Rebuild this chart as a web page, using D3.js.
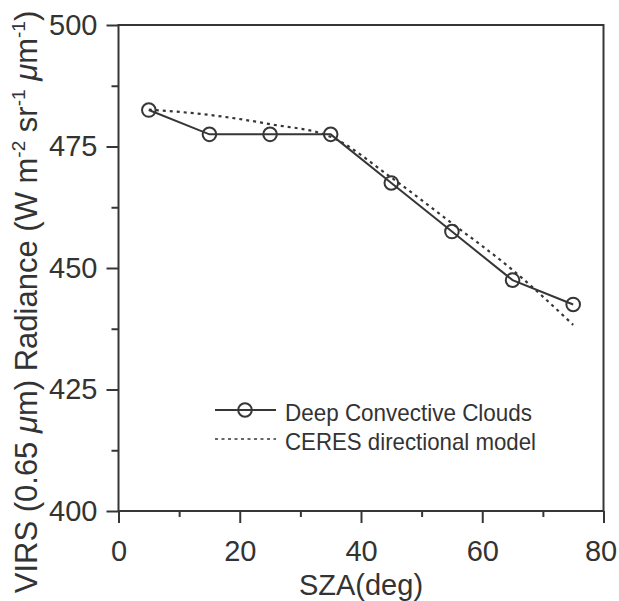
<!DOCTYPE html>
<html>
<head>
<meta charset="utf-8">
<script src="https://cdn.jsdelivr.net/npm/d3@7"></script>
<style>
  body { margin: 0; background: #fff; }
  svg { display: block; font-family: "Liberation Sans", Arial, Helvetica, sans-serif; }
</style>
</head>
<body>
<svg id="chart" width="619" height="601"></svg>
<script>
// ---- data ----
const szaValues = [5, 15, 25, 35, 45, 55, 65, 75];
const dccRadiance = [482.5, 477.5, 477.5, 477.5, 467.5, 457.5, 447.5, 442.5];
const ceresSza = [5, 15, 25, 35, 45, 55, 65, 75];
const ceresRadiance = [482.6, 481.5, 479.6, 477.0, 468.6, 459.2, 449.6, 438.3];
const xTicks = [0, 20, 40, 60, 80];
const xMinorTicks = [10, 30, 50, 70];
const yTicks = [400, 425, 450, 475, 500];
const yMinorTicks = [412.5, 437.5, 462.5, 487.5];
const legendLabels = ["Deep Convective Clouds", "CERES directional model"];

// ---- layout ----
const svg = d3.select("#chart");
const L = 118.5, R = 603.5, T = 25, B = 511;
const ink = "#363636";
const x = d3.scaleLinear().domain([0, 80]).range([L, R]);
const y = d3.scaleLinear().domain([400, 500]).range([B, T]);

// frame
svg.append("rect").attr("x", L).attr("y", T).attr("width", R - L).attr("height", B - T)
  .attr("fill", "none").attr("stroke", ink).attr("stroke-width", 2);

// x axis
const xAxis = svg.append("g").attr("transform", `translate(0,${B})`)
  .call(d3.axisBottom(x).tickValues(xTicks).tickSize(12).tickPadding(17).tickFormat(d3.format("d")));
xAxis.select(".domain").remove();
xAxis.selectAll(".tick line").attr("stroke", ink).attr("stroke-width", 2);
xAxis.selectAll(".tick text").attr("font-size", 29).attr("fill", "#333").attr("font-family", null);
xAxis.selectAll(".tick text").filter(d => d === 80).attr("dx", -3);
const xMinor = svg.append("g").attr("transform", `translate(0,${B})`)
  .call(d3.axisBottom(x).tickValues(xMinorTicks).tickSize(6).tickFormat(""));
xMinor.select(".domain").remove();
xMinor.selectAll(".tick line").attr("stroke", ink).attr("stroke-width", 2);

// y axis
const yAxis = svg.append("g").attr("transform", `translate(${L},0)`)
  .call(d3.axisLeft(y).tickValues(yTicks).tickSize(12).tickPadding(9).tickFormat(d3.format("d")));
yAxis.select(".domain").remove();
yAxis.selectAll(".tick line").attr("stroke", ink).attr("stroke-width", 2);
yAxis.selectAll(".tick text").attr("font-size", 29).attr("fill", "#333").attr("font-family", null);
const yMinor = svg.append("g").attr("transform", `translate(${L},0)`)
  .call(d3.axisLeft(y).tickValues(yMinorTicks).tickSize(7).tickFormat(""));
yMinor.select(".domain").remove();
yMinor.selectAll(".tick line").attr("stroke", ink).attr("stroke-width", 2);

// axis titles
svg.append("text").attr("x", (L + R) / 2).attr("y", 595).attr("text-anchor", "middle")
  .attr("font-size", 29).attr("fill", "#333").text("SZA(deg)");

const yl = svg.append("text").attr("transform", "translate(37,302) rotate(-90)")
  .attr("text-anchor", "middle").attr("font-size", 31).attr("fill", "#333");
yl.append("tspan").text("VIRS (0.65 ");
yl.append("tspan").attr("font-style", "italic").text("μ");
yl.append("tspan").text("m) Radiance (W m");
yl.append("tspan").attr("font-size", 19).attr("dy", -12).text("-2");
yl.append("tspan").attr("dy", 12).text(" sr");
yl.append("tspan").attr("font-size", 19).attr("dy", -12).text("-1");
yl.append("tspan").attr("dy", 12).text(" ");
yl.append("tspan").attr("font-style", "italic").text("μ");
yl.append("tspan").text("m");
yl.append("tspan").attr("font-size", 19).attr("dy", -12).text("-1");
yl.append("tspan").attr("dy", 12).text(")");

// series
const dcc = szaValues.map((s, i) => [s, dccRadiance[i]]);
const ceres = ceresSza.map((s, i) => [s, ceresRadiance[i]]);
const lineGen = d3.line().x(d => x(d[0])).y(d => y(d[1]));
const curveGen = d3.line().x(d => x(d[0])).y(d => y(d[1])).curve(d3.curveMonotoneX);

svg.append("path").datum(ceres).attr("d", curveGen).attr("fill", "none")
  .attr("stroke", ink).attr("stroke-width", 2.2).attr("stroke-dasharray", "3,4");
svg.append("path").datum(dcc).attr("d", lineGen).attr("fill", "none")
  .attr("stroke", ink).attr("stroke-width", 2);
svg.selectAll("circle.dcc").data(dcc).join("circle").attr("class", "dcc")
  .attr("cx", d => x(d[0])).attr("cy", d => y(d[1])).attr("r", 6.8)
  .attr("fill", "none").attr("stroke", ink).attr("stroke-width", 2);

// legend
const lg = svg.append("g");
lg.append("line").attr("x1", 215).attr("x2", 276).attr("y1", 410).attr("y2", 410)
  .attr("stroke", ink).attr("stroke-width", 2);
lg.append("circle").attr("cx", 245).attr("cy", 410).attr("r", 6.8)
  .attr("fill", "none").attr("stroke", ink).attr("stroke-width", 2);
lg.append("line").attr("x1", 215).attr("x2", 276).attr("y1", 439).attr("y2", 439)
  .attr("stroke", ink).attr("stroke-width", 1.5).attr("stroke-dasharray", "3,3.5");
lg.append("text").attr("x", 285).attr("y", 421).attr("font-size", 24).attr("fill", "#333")
  .attr("textLength", 247).attr("lengthAdjust", "spacingAndGlyphs").text(legendLabels[0]);
lg.append("text").attr("x", 285).attr("y", 450).attr("font-size", 24).attr("fill", "#333")
  .attr("textLength", 251).attr("lengthAdjust", "spacingAndGlyphs").text(legendLabels[1]);
</script>
</body>
</html>
